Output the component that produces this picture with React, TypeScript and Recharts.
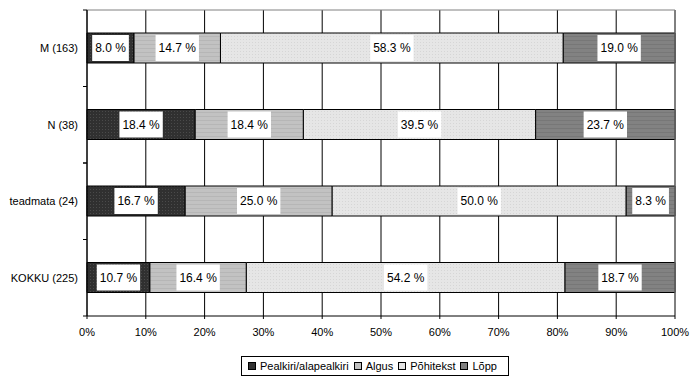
import {
  BarChart, Bar, XAxis, YAxis, CartesianGrid, Legend, LabelList, ReferenceLine,
} from "recharts";

const categories = ["M (163)", "N (38)", "teadmata (24)", "KOKKU (225)"];
const pealkiri = [8.0, 18.4, 16.7, 10.7];
const algus = [14.7, 18.4, 25.0, 16.4];
const pohitekst = [58.3, 39.5, 50.0, 54.2];
const lopp = [19.0, 23.7, 8.3, 18.7];
const xTicks = [0, 10, 20, 30, 40, 50, 60, 70, 80, 90, 100];

const series = [
  { key: "pealkiri", name: "Pealkiri/alapealkiri", fill: "url(#pPealkiri)", swatch: "#333333" },
  { key: "algus", name: "Algus", fill: "url(#pAlgus)", swatch: "#c0c0c0" },
  { key: "pohitekst", name: "Põhitekst", fill: "url(#pPohi)", swatch: "#e4e4e4" },
  { key: "lopp", name: "Lõpp", fill: "url(#pLopp)", swatch: "#808080" },
];

const data = categories.map((name, i) => ({
  name,
  pealkiri: pealkiri[i],
  algus: algus[i],
  pohitekst: pohitekst[i],
  lopp: lopp[i],
}));

const FONT = "'Liberation Sans', Arial, sans-serif";

// rough Liberation Sans widths at 12px
function textWidth(s: string) {
  let w = 0;
  for (const ch of s) {
    if (ch === "." || ch === " ") w += 3.34;
    else if (ch === "%") w += 10.67;
    else w += 6.67;
  }
  return w;
}

function BoxLabel(props: any) {
  const { x, y, width, height, value } = props;
  if (value == null) return null;
  const txt = `${Number(value).toFixed(1)} %`;
  const tw = textWidth(txt) + 6;
  const cx = x + width / 2;
  const cy = y + height / 2;
  return (
    <g>
      <rect x={cx - tw / 2} y={y + 2} width={tw} height={height - 4} fill="#fff" />
      <text x={cx} y={cy} textAnchor="middle" dominantBaseline="central"
        fontSize={12} fontFamily={FONT} fill="#000">
        {txt}
      </text>
    </g>
  );
}

function YTick(props: any) {
  const { x, y, payload } = props;
  const axisX = x + 9;
  const half = payload?.offset ?? 0;
  return (
    <g>
      <text x={x} y={y} textAnchor="end" dominantBaseline="central"
        fontSize={11} fontFamily={FONT} fill="#000">
        {payload.value}
      </text>
      {half > 0 && (
        <>
          <line x1={axisX - 4} x2={axisX} y1={y - half} y2={y - half} stroke="#000" />
          <line x1={axisX - 4} x2={axisX} y1={y + half} y2={y + half} stroke="#000" />
        </>
      )}
    </g>
  );
}

function LegendBox() {
  return (
    <div style={{
      display: "inline-flex", alignItems: "center", border: "1px solid #000",
      padding: "3px 6px", fontFamily: FONT, fontSize: 11, background: "#fff", whiteSpace: "nowrap",
    }}>
      {series.map((s) => (
        <span key={s.key} style={{ display: "inline-flex", alignItems: "center", marginRight: 5 }}>
          <span style={{
            display: "inline-block", width: 6, height: 6, border: "1px solid #000",
            background: s.swatch, marginRight: 4,
          }} />
          {s.name}
        </span>
      ))}
    </div>
  );
}

export default function App() {
  return (
    <div style={{ position: "absolute", left: 0, top: 0, background: "#fff" }}>
      <BarChart
        width={700}
        height={385}
        data={data}
        layout="vertical"
        barSize={30}
        margin={{ top: 10, right: 25, left: 0, bottom: 9 }}
      >
        <defs>
          <pattern id="pPealkiri" width="3" height="3" patternUnits="userSpaceOnUse">
            <rect width="3" height="3" fill="#303030" />
            <rect width="1" height="1" fill="#4a4a4a" />
          </pattern>
          <pattern id="pAlgus" width="4" height="4" patternUnits="userSpaceOnUse">
            <rect width="4" height="4" fill="#c2c2c2" />
            <rect width="4" height="1" fill="#b6b6b6" />
          </pattern>
          <pattern id="pPohi" width="3" height="3" patternUnits="userSpaceOnUse">
            <rect width="3" height="3" fill="#e6e6e6" />
            <rect width="1" height="1" fill="#d6d6d6" />
          </pattern>
          <pattern id="pLopp" width="4" height="4" patternUnits="userSpaceOnUse">
            <rect width="4" height="4" fill="#828282" />
            <rect width="4" height="1" fill="#777777" />
          </pattern>
        </defs>
        <CartesianGrid horizontal={false} stroke="#000" strokeWidth={1} />
        <CartesianGrid
          vertical={false}
          stroke="#808080"
          horizontalCoordinatesGenerator={({ offset }: any) => [offset.top]}
        />
        <XAxis
          type="number"
          domain={[0, 100]}
          ticks={xTicks}
          tickFormatter={(v) => `${v}%`}
          stroke="#000"
          tickSize={3}
          tickMargin={9}
          height={40}
          tick={{ fill: "#000", fontSize: 11, fontFamily: FONT }}
        />
        <YAxis
          type="category"
          dataKey="name"
          width={87}
          stroke="#000"
          tickLine={false}
          tickSize={0}
          tickMargin={9}
          tick={<YTick />}
          interval={0}
        />
        <ReferenceLine x={100} stroke="#808080" />
        {series.map((s) => (
          <Bar key={s.key} dataKey={s.key} name={s.name} stackId="a" fill={s.fill}
            stroke="#000" strokeWidth={1} isAnimationActive={false}>
            <LabelList dataKey={s.key} content={<BoxLabel />} />
          </Bar>
        ))}
        <Legend
          verticalAlign="bottom"
          content={<LegendBox />}
          wrapperStyle={{ left: 241, width: "auto", bottom: 9 }}
        />
      </BarChart>
    </div>
  );
}
